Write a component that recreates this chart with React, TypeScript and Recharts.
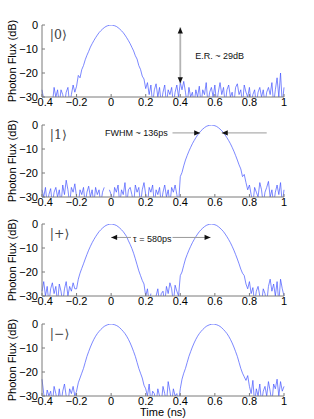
import React from 'react';
import { LineChart, Line, XAxis, YAxis, ReferenceLine, ReferenceDot } from 'recharts';

// time samples (ns)
const TIME = [
  -0.40, -0.39, -0.38, -0.37, -0.36, -0.35, -0.34, -0.33, -0.32, -0.31,
  -0.30, -0.29, -0.28, -0.27, -0.26, -0.25, -0.24, -0.23, -0.22, -0.21,
  -0.20, -0.19, -0.18, -0.17, -0.16, -0.15, -0.14, -0.13, -0.12, -0.11,
  -0.10, -0.09, -0.08, -0.07, -0.06, -0.05, -0.04, -0.03, -0.02, -0.01,
  0.00, 0.01, 0.02, 0.03, 0.04, 0.05, 0.06, 0.07, 0.08, 0.09,
  0.10, 0.11, 0.12, 0.13, 0.14, 0.15, 0.16, 0.17, 0.18, 0.19,
  0.20, 0.21, 0.22, 0.23, 0.24, 0.25, 0.26, 0.27, 0.28, 0.29,
  0.30, 0.31, 0.32, 0.33, 0.34, 0.35, 0.36, 0.37, 0.38, 0.39,
  0.40, 0.41, 0.42, 0.43, 0.44, 0.45, 0.46, 0.47, 0.48, 0.49,
  0.50, 0.51, 0.52, 0.53, 0.54, 0.55, 0.56, 0.57, 0.58, 0.59,
  0.60, 0.61, 0.62, 0.63, 0.64, 0.65, 0.66, 0.67, 0.68, 0.69,
  0.70, 0.71, 0.72, 0.73, 0.74, 0.75, 0.76, 0.77, 0.78, 0.79,
  0.80, 0.81, 0.82, 0.83, 0.84, 0.85, 0.86, 0.87, 0.88, 0.89,
  0.90, 0.91, 0.92, 0.93, 0.94, 0.95, 0.96, 0.97, 0.98, 0.99,
  1.00,
];

// photon flux (dB), state |0>
const FLUX_ZERO = [
  -27, -31, null, null, null, null, -33, -26, -30, -27,
  -33, -27, -29, -33, -28, -26, -33, -29, -25, -28,
  -25.5, -21, -22, -18.6, -16.9, -14.5, -12.6, -11, -9.2, -7.8,
  -6.5, -5.3, -4.2, -3.2, -2.4, -1.7, -1.1, -0.6, -0.3, -0.1,
  0, -0.1, -0.3, -0.6, -1.1, -1.7, -2.4, -3.2, -4.2, -5.3,
  -6.5, -7.8, -9.3, -10.8, -12.8, -14.2, -16.9, -18.5, -21.3, -22.5,
  -26.5, -24, -29, -25, -33, -27, -24.5, -30, -26, -33,
  -28, -25, -33, -27, -29, -26, -33, -28, -25, -30,
  -24, -27, -23.5, -28, -33, -26, -30, -28, -33, -27,
  -30, -25.5, -33, -27, -29, -24, -33, -28, -26, -30,
  -25, -33, -28, -24, -29, -26, -33, -27, -25, -30,
  -28, -33, -26, -24.5, -29, -27, -33, -25, -28, -30,
  -26, -33, -29, -27, -33, -28, -26, -30, -27, -33,
  -28, -26, -29, -24, -33, -27, -22, -30, -20, -33,
  -26,
];

// state |1>
const FLUX_ONE = [
  -27, -30, -26, -33, -29, -26.5, -33, -28, -26, -30,
  -27, -33, -25, -29, -23, -27, -33, -26, -28, -24.5,
  -30, -33, -27, -29, -26, -33, -28, -25.5, -30, -27,
  -33, -26, -29, -27, -33, -28, -26, null, null, -27,
  -29, -33, -26, -28, -25, -33, -27, -29, -24, -33,
  -27, -26, -29, -33, -25, -28, -26, -33, -27, -24,
  -29, -33, -26, -28, -25, -33, -27, -29, -26, -33,
  -28, -25, -30, -27, -33, -26, -28, -25, -29, -33,
  -21.5, -19.8, -17, -14.6, -12.7, -10.9, -9.3, -7.8, -6.5, -5.3,
  -4.2, -3.2, -2.4, -1.7, -1.1, -0.6, -0.3, -0.1, 0, -0.1,
  -0.3, -0.6, -1.1, -1.7, -2.4, -3.2, -4.2, -5.3, -6.5, -7.8,
  -9.3, -10.9, -12.7, -14.6, -16.6, -18.3, -21.5, -20.6, -24, -27,
  -25, -29, -33, -26, -28, -30, -24, -27, -33, -28,
  -26, -23.5, -30, -27, -33, -28, -25, -29, -24, -33,
  -27,
];

// state |+>
const FLUX_PLUS = [
  -28, -24, -30, -26, -33, -27, -24.5, -29, -26, -33,
  -25, -28, -33, -27, -24, -30, -26, -28, -24.5, -27,
  -27, -23, -20.5, -18.5, -16.6, -14.6, -12.7, -10.9, -9.3, -7.8,
  -6.5, -5.3, -4.2, -3.2, -2.4, -1.7, -1.1, -0.6, -0.3, -0.1,
  0, -0.1, -0.3, -0.6, -1.1, -1.7, -2.4, -3.2, -4.2, -5.3,
  -7, -8.5, -10.2, -12.2, -14.5, -17, -19.5, -21.5, -23.5, -25,
  -30, -27, -33, -29, null, -33, -30, -27, -33, -29,
  -28, -33, -26, -29, -24.5, -27, -33, -25.5, -28, -30,
  -21.5, -20, -17.2, -14.6, -12.7, -10.9, -9.3, -7.8, -6.5, -5.3,
  -4.2, -3.2, -2.4, -1.7, -1.1, -0.6, -0.3, -0.1, 0, -0.1,
  -0.3, -0.6, -1.1, -1.7, -2.4, -3.2, -4.2, -5.3, -6.5, -7.8,
  -9.3, -10.9, -12.7, -14.6, -16.6, -18.8, -20.5, -21.5, -25, -27,
  -24, -29, -26.5, -33, -28, -26, -30, -33, -27, -29,
  -33, -26, -23, -28, -25, -30, -24, -33, -23, -27,
  -30,
];

// state |->
const FLUX_MINUS = [
  -23, -29, -33, -27.5, -30, -28, -33, -26, -29, -33,
  -27, -33, -28, -25, -30, -33, -27, -29, -26, -30,
  -28, -24.5, -22.5, -20.5, -18.5, -16, -13.5, -11.5, -9.6, -7.9,
  -6.4, -5.1, -4, -3.1, -2.3, -1.6, -1, -0.6, -0.3, -0.1,
  0, -0.1, -0.3, -0.6, -1.0, -1.6, -2.3, -3.1, -4.0, -5.1,
  -6.4, -7.9, -9.6, -11.5, -13.5, -16, -18.5, -20.5, -22.5, -25.5,
  -27, -30, -25, -33, -28, -29, -33, -27, -30, -33,
  -26, -29, -33, -24, -28, -33, -27, -30, -29, -33,
  -27, -23, -20.5, -18.5, -16, -13.5, -11.5, -9.6, -7.9, -6.4,
  -5.1, -4.0, -3.1, -2.3, -1.6, -1.0, -0.6, -0.3, -0.1, 0,
  -0.1, -0.3, -0.6, -1.0, -1.6, -2.3, -3.1, -4.0, -5.1, -6.4,
  -7.9, -9.6, -11.5, -13.5, -16, -18.5, -20.5, -22, -23.5, -21.5,
  -26, -29, -23.5, -33, -27, -30, -25, -33, -28, -26,
  -30, -24, -28, -33, -25, -27, -23, -30, -24, -28,
  -26,
];

const STATE_LABELS = ['|0⟩', '|1⟩', '|+⟩', '|−⟩'];
const SERIES = [FLUX_ZERO, FLUX_ONE, FLUX_PLUS, FLUX_MINUS];
const X_TICKS = [-0.4, -0.2, 0, 0.2, 0.4, 0.6, 0.8, 1];
const Y_TICKS = [-30, -20, -10, 0];
const X_LABEL = 'Time (ns)';
const Y_LABEL = 'Photon Flux (dB)';

const FONT = '"Liberation Sans", Arial, Helvetica, sans-serif';
const SERIF = '"DejaVu Serif", "Liberation Serif", serif';
const AXIS_COLOR = '#7a7a7a';
const LINE_COLOR = '#4455ff';

const PANEL_TOPS = [0, 100, 199, 299];

const fmt = (v: number) => (v < 0 ? '\u2212' + Math.abs(v) : String(v));
const blank = () => '';

const rowsFor = (values: (number | null)[]) => TIME.map((t, i) => ({ t, v: values[i] ?? null }));

const arrowShape = (heads: 'start' | 'end' | 'both', color: string, width: number) => (p: any) => {
  const { x1, y1, x2, y2 } = p;
  const dx = x2 - x1;
  const dy = y2 - y1;
  const len = Math.hypot(dx, dy) || 1;
  const ux = dx / len;
  const uy = dy / len;
  const L = 6;
  const W = 2.6;
  const head = (tx: number, ty: number, ax: number, ay: number) => {
    const bx = tx - ax * L;
    const by = ty - ay * L;
    return `${tx},${ty} ${bx - ay * W},${by + ax * W} ${bx + ay * W},${by - ax * W}`;
  };
  return (
    <g>
      <line x1={x1} y1={y1} x2={x2} y2={y2} stroke={color} strokeWidth={width} />
      {(heads === 'end' || heads === 'both') && <polygon points={head(x2, y2, ux, uy)} fill="#111" />}
      {(heads === 'start' || heads === 'both') && <polygon points={head(x1, y1, -ux, -uy)} fill="#111" />}
    </g>
  );
};

const textShape = (text: string, size: number, family: string, color: string) => (p: any) => (
  <text x={p.cx} y={p.cy} fontSize={size} fontFamily={family} fill={color} textAnchor="start" dominantBaseline="central">
    {text}
  </text>
);

const YLabel = (props: any) => {
  const vb = props.viewBox || {};
  const cx = (vb.x ?? 0) + 12;
  const cy = (vb.y ?? 0) + (vb.height ?? 0) / 2;
  return (
    <text x={cx} y={cy} transform={`rotate(-90 ${cx} ${cy})`} textAnchor="middle" dominantBaseline="central" fontSize={11} fontFamily={FONT} fill="#000">
      {Y_LABEL}
    </text>
  );
};

const XLabel = (props: any) => {
  const vb = props.viewBox || {};
  const cx = (vb.x ?? 0) + (vb.width ?? 0) / 2;
  const cy = (vb.y ?? 0) + 16;
  return (
    <text x={cx} y={cy} textAnchor="middle" dominantBaseline="central" fontSize={11} fontFamily={FONT} fill="#000">
      {X_LABEL}
    </text>
  );
};

const ids = { xAxisId: 'b', yAxisId: 'l' };

function Panel({ index }: { index: number }) {
  const data = rowsFor(SERIES[index]);
  const tickStyle = { fontSize: 11, fill: '#000', fontFamily: FONT };
  return (
    <div style={{ position: 'absolute', left: 0, top: PANEL_TOPS[index] }}>
      <LineChart width={314} height={125} data={data} margin={{ top: 25, right: 30, bottom: 0, left: 0 }}>
        <XAxis xAxisId="b" dataKey="t" type="number" domain={[-0.4, 1]} ticks={X_TICKS} interval={0}
          height={28} tickSize={-3} tickMargin={4} tickFormatter={fmt} tick={tickStyle} stroke={AXIS_COLOR}
          label={index === 3 ? XLabel : undefined} />
        <XAxis xAxisId="top" orientation="top" dataKey="t" type="number" domain={[-0.4, 1]} ticks={X_TICKS}
          interval={0} height={0} tickSize={-3} tickFormatter={blank} stroke={AXIS_COLOR} />
        <YAxis yAxisId="l" type="number" domain={[-30, 0]} ticks={Y_TICKS} interval={0} allowDataOverflow
          width={42} tickSize={-3} tickMargin={7} tickFormatter={fmt} tick={tickStyle} stroke={AXIS_COLOR}
          label={YLabel} />
        <YAxis yAxisId="r" orientation="right" type="number" domain={[-30, 0]} ticks={Y_TICKS} interval={0}
          allowDataOverflow width={0} tickSize={-3} tickFormatter={blank} stroke={AXIS_COLOR} />
        <Line {...ids} dataKey="v" stroke={LINE_COLOR} strokeWidth={0.7} dot={false} isAnimationActive={false}
          connectNulls={false} />
        <ReferenceDot {...ids} x={-0.355} y={-3.8} r={0}
          shape={textShape(STATE_LABELS[index], 12.5, SERIF, '#444')} />
        {index === 0 && (
          <ReferenceLine {...ids} segment={[{ x: 0.4, y: -1 }, { x: 0.4, y: -24.3 }]}
            shape={arrowShape('both', '#b4b4b4', 1.8)} />
        )}
        {index === 0 && (
          <ReferenceDot {...ids} x={0.487} y={-13.1} r={0} shape={textShape('E.R. ~ 29dB', 9, FONT, '#111')} />
        )}
        {index === 1 && (
          <ReferenceDot {...ids} x={-0.035} y={-3.3} r={0} shape={textShape('FWHM ~ 136ps', 9, FONT, '#111')} />
        )}
        {index === 1 && (
          <ReferenceLine {...ids} segment={[{ x: 0.355, y: -3.3 }, { x: 0.515, y: -3.3 }]}
            shape={arrowShape('end', '#9a9a9a', 1)} />
        )}
        {index === 1 && (
          <ReferenceLine {...ids} segment={[{ x: 0.9, y: -3.3 }, { x: 0.64, y: -3.3 }]}
            shape={arrowShape('end', '#9a9a9a', 1)} />
        )}
        {index === 2 && (
          <ReferenceDot {...ids} x={0.127} y={-6.1} r={0} shape={textShape('τ = 580ps', 9, FONT, '#111')} />
        )}
        {index === 2 && (
          <ReferenceLine {...ids} segment={[{ x: 0.0, y: -5.6 }, { x: 0.115, y: -5.6 }]}
            shape={arrowShape('start', '#9a9a9a', 1)} />
        )}
        {index === 2 && (
          <ReferenceLine {...ids} segment={[{ x: 0.355, y: -5.6 }, { x: 0.575, y: -5.6 }]}
            shape={arrowShape('end', '#9a9a9a', 1)} />
        )}
      </LineChart>
    </div>
  );
}

export default function App() {
  return (
    <div style={{ position: 'absolute', left: 0, top: 0, width: 314, height: 419, overflow: 'hidden', background: '#fff' }}>
      {[0, 1, 2, 3].map((i) => (
        <Panel key={i} index={i} />
      ))}
    </div>
  );
}
